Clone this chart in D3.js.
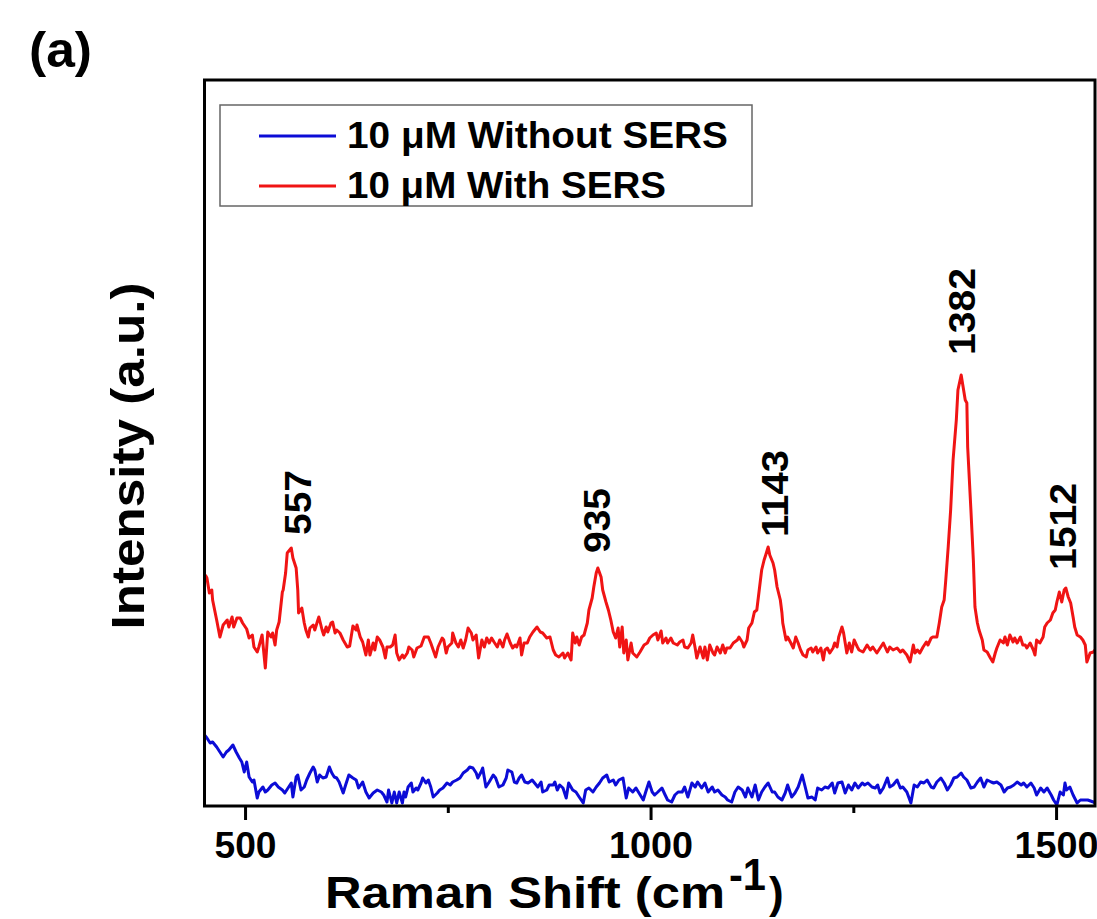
<!DOCTYPE html>
<html><head><meta charset="utf-8">
<script src="https://cdn.jsdelivr.net/npm/d3@7"></script>
<style>
body{margin:0;background:#fff}
svg{display:block}
text{font-family:"Liberation Sans",Arial,Helvetica,sans-serif;font-weight:bold;fill:#000}
</style>
</head><body>
<svg id="c" width="1097" height="919"></svg>
<script>
// ---------------- data ----------------
const seriesNames = ["10 \u03bcM Without SERS", "10 \u03bcM With SERS"];
const seriesColors = ["#0c0cd6", "#f01414"];
const xTicksMajor = [500, 1000, 1500];
const xTicksMinor = [750, 1250];
const xDomain = [450, 1548];
const yDomain = [0, 3630];
const peakLabels = ["557", "935", "1143", "1382", "1512"];
const peakLabelShift = [565, 934, 1153, 1384, 1509];
const peakLabelIntensity = [1355, 1265, 1345, 2255, 1180];

// [Raman shift (cm-1), intensity (a.u.)]
const redSpectrum = [[451,1155],[453,1140],[456,1065],[459,1080],[460,1030],[465,930],[469,845],[473,905],[478,930],[480,895],[484,945],[486,895],[490,940],[494,940],[497,915],[502,885],[505,840],[509,855],[511,795],[515,770],[517,795],[521,855],[525,690],[528,870],[532,845],[534,865],[537,805],[539,880],[542,920],[546,1070],[547,1080],[550,1165],[552,1265],[557,1290],[559,1240],[563,1190],[565,1080],[566,965],[570,990],[573,915],[575,880],[578,845],[580,890],[584,905],[586,880],[589,920],[591,945],[595,880],[597,855],[600,895],[602,870],[606,915],[608,920],[611,865],[613,880],[617,865],[621,830],[626,795],[629,800],[633,900],[637,880],[638,905],[642,845],[645,820],[649,755],[652,830],[654,755],[658,815],[660,780],[663,845],[666,830],[670,795],[673,740],[675,795],[679,795],[682,805],[685,855],[687,765],[690,730],[694,755],[696,740],[700,765],[702,795],[706,780],[708,745],[712,790],[717,800],[721,845],[726,845],[729,815],[732,780],[735,745],[738,795],[743,840],[745,830],[748,765],[750,795],[755,815],[756,865],[760,815],[763,795],[766,830],[769,790],[772,830],[775,890],[779,865],[781,830],[785,855],[786,815],[788,740],[792,830],[795,795],[798,840],[801,815],[804,840],[807,820],[811,795],[814,830],[818,795],[820,830],[823,860],[827,815],[830,790],[833,805],[835,795],[839,840],[841,755],[844,815],[848,815],[851,845],[855,870],[860,895],[864,870],[867,865],[872,840],[876,845],[880,780],[883,755],[887,745],[892,765],[894,740],[898,765],[902,730],[904,865],[907,815],[909,845],[912,805],[915,845],[918,855],[922,915],[924,980],[928,1040],[930,1095],[933,1165],[935,1190],[939,1145],[941,1080],[945,1020],[948,980],[951,930],[954,870],[957,840],[960,890],[962,795],[965,895],[967,765],[970,830],[972,730],[976,815],[978,765],[983,745],[987,770],[992,805],[996,815],[999,840],[1003,855],[1007,865],[1009,830],[1013,875],[1015,815],[1019,840],[1021,815],[1025,840],[1028,815],[1033,805],[1036,820],[1040,830],[1042,795],[1046,790],[1050,815],[1052,855],[1055,790],[1057,740],[1061,795],[1065,740],[1067,795],[1070,730],[1073,805],[1077,765],[1079,755],[1082,795],[1086,765],[1089,805],[1092,765],[1094,790],[1098,790],[1102,815],[1107,830],[1109,845],[1113,820],[1115,795],[1119,830],[1121,890],[1125,915],[1128,970],[1131,980],[1134,1080],[1137,1180],[1140,1230],[1142,1255],[1145,1295],[1147,1255],[1151,1215],[1153,1180],[1156,1095],[1160,1030],[1162,965],[1163,915],[1167,830],[1169,845],[1173,815],[1176,790],[1179,845],[1182,815],[1185,780],[1188,755],[1192,745],[1194,780],[1198,790],[1200,770],[1204,795],[1206,765],[1210,790],[1213,730],[1215,780],[1218,790],[1221,765],[1225,790],[1227,815],[1230,795],[1232,845],[1236,895],[1238,865],[1242,765],[1245,815],[1248,770],[1251,830],[1255,795],[1257,780],[1262,770],[1267,805],[1271,780],[1274,795],[1279,765],[1283,790],[1287,815],[1292,770],[1295,795],[1299,780],[1304,790],[1308,770],[1311,780],[1316,755],[1320,720],[1324,805],[1326,765],[1329,780],[1332,765],[1336,795],[1340,820],[1342,805],[1346,840],[1348,845],[1353,845],[1356,915],[1359,995],[1362,1030],[1364,1130],[1367,1295],[1370,1480],[1373,1730],[1377,1930],[1379,2080],[1383,2155],[1385,2105],[1388,2030],[1390,2015],[1391,1795],[1395,1480],[1398,1230],[1400,995],[1403,915],[1405,880],[1409,830],[1411,780],[1415,770],[1419,740],[1422,720],[1425,765],[1427,790],[1431,830],[1435,815],[1437,845],[1440,805],[1443,855],[1447,820],[1449,840],[1452,815],[1456,845],[1459,805],[1462,805],[1464,790],[1468,815],[1472,780],[1474,755],[1476,830],[1480,815],[1484,845],[1486,895],[1489,915],[1493,930],[1496,965],[1499,980],[1501,1020],[1504,1070],[1507,1020],[1510,1080],[1512,1090],[1515,1045],[1518,1015],[1521,945],[1523,895],[1526,855],[1530,845],[1533,830],[1536,805],[1538,720],[1542,765],[1546,770],[1548,780]];

const blueSpectrum = [[450,355],[453,340],[457,315],[460,320],[465,295],[469,270],[473,245],[477,270],[480,280],[485,305],[489,270],[493,240],[496,220],[499,170],[502,220],[505,145],[509,120],[511,130],[515,40],[517,70],[522,95],[525,70],[528,80],[533,105],[537,115],[541,95],[546,80],[549,65],[553,90],[557,115],[559,45],[563,145],[565,155],[569,80],[573,95],[576,130],[580,165],[584,195],[586,180],[589,120],[592,155],[596,140],[600,145],[604,195],[607,165],[610,145],[613,140],[616,120],[621,65],[624,105],[628,155],[633,140],[637,130],[640,90],[645,120],[649,70],[653,40],[658,65],[663,80],[668,70],[671,55],[675,20],[677,80],[681,15],[684,70],[687,15],[690,70],[694,15],[696,70],[698,45],[701,95],[705,115],[707,70],[711,90],[713,80],[717,115],[719,140],[723,115],[726,130],[729,95],[732,45],[737,65],[740,80],[744,90],[749,115],[753,105],[756,120],[761,130],[765,140],[769,165],[774,180],[777,195],[781,190],[785,165],[787,140],[791,170],[793,190],[797,95],[801,120],[806,155],[809,140],[813,95],[818,105],[822,140],[824,180],[829,170],[832,120],[835,115],[838,140],[841,155],[845,120],[849,115],[854,130],[857,115],[861,95],[865,120],[867,70],[872,80],[875,105],[880,105],[882,120],[885,80],[888,105],[892,90],[896,40],[899,115],[904,80],[908,70],[912,45],[917,15],[920,80],[924,90],[929,70],[933,95],[937,115],[941,140],[946,155],[949,120],[954,130],[957,105],[961,130],[966,140],[970,40],[973,90],[978,70],[982,90],[985,70],[991,30],[994,70],[998,120],[1002,70],[1005,55],[1009,70],[1014,90],[1018,55],[1021,30],[1026,20],[1030,55],[1034,70],[1039,70],[1042,95],[1046,45],[1051,115],[1055,95],[1058,120],[1063,90],[1067,115],[1071,70],[1076,95],[1079,70],[1083,80],[1088,55],[1092,45],[1095,30],[1100,20],[1104,70],[1108,95],[1113,80],[1117,45],[1120,90],[1125,45],[1129,105],[1133,30],[1137,70],[1141,95],[1145,115],[1150,70],[1153,70],[1157,45],[1162,30],[1166,65],[1169,105],[1174,45],[1178,65],[1182,95],[1187,155],[1191,90],[1194,40],[1199,45],[1203,30],[1206,90],[1211,80],[1215,95],[1219,90],[1224,115],[1227,65],[1231,115],[1236,120],[1240,65],[1244,105],[1248,80],[1252,115],[1256,90],[1261,115],[1264,105],[1268,115],[1273,95],[1277,90],[1280,105],[1283,65],[1287,90],[1292,140],[1295,95],[1299,105],[1304,130],[1308,90],[1311,95],[1316,70],[1321,15],[1325,105],[1329,95],[1333,120],[1337,115],[1341,130],[1346,95],[1349,90],[1353,120],[1358,140],[1362,115],[1366,80],[1370,105],[1374,140],[1378,145],[1383,165],[1386,145],[1390,130],[1395,90],[1399,95],[1403,120],[1407,140],[1411,95],[1415,130],[1420,120],[1423,115],[1427,120],[1432,105],[1436,70],[1440,90],[1444,95],[1448,105],[1452,120],[1457,105],[1460,115],[1464,95],[1469,115],[1473,90],[1476,55],[1481,90],[1485,70],[1489,90],[1494,55],[1497,30],[1501,5],[1505,70],[1509,55],[1511,115],[1513,80],[1517,95],[1521,55],[1526,15],[1530,30],[1534,30],[1539,30],[1546,20],[1548,15]];

// ---------------- chart ----------------
const svg = d3.select("#c");
const m = {left: 204.5, right: 1095, top: 80, bottom: 806};
const x = d3.scaleLinear().domain(xDomain).range([m.left, m.right]);
const y = d3.scaleLinear().domain(yDomain).range([m.bottom, m.top]);

svg.append("defs").append("clipPath").attr("id", "plotclip")
  .append("rect").attr("x", m.left).attr("y", m.top)
  .attr("width", m.right - m.left).attr("height", m.bottom - m.top);

const line = d3.line().x(d => x(d[0])).y(d => y(d[1]));
const plot = svg.append("g").attr("clip-path", "url(#plotclip)");
[blueSpectrum, redSpectrum].forEach((s, i) => {
  plot.append("path").datum(s).attr("d", line)
    .attr("fill", "none").attr("stroke", seriesColors[i])
    .attr("stroke-width", 3).attr("stroke-linejoin", "round");
});

// frame
svg.append("rect").attr("x", m.left).attr("y", m.top)
  .attr("width", m.right - m.left).attr("height", m.bottom - m.top)
  .attr("fill", "none").attr("stroke", "#000").attr("stroke-width", 3);

// x axis major
const ax = svg.append("g").attr("transform", `translate(0,${m.bottom})`)
  .call(d3.axisBottom(x).tickValues(xTicksMajor).tickSize(14).tickFormat(d3.format("d")));
ax.attr("font-family", null).attr("font-size", null);
ax.select(".domain").remove();
ax.selectAll(".tick line").attr("stroke", "#000").attr("stroke-width", 3);
ax.selectAll(".tick text").attr("y", 52).attr("dy", null)
  .attr("font-size", 36).attr("fill", "#000")
  .attr("textLength", d => String(d).length === 3 ? 62 : 84)
  .attr("lengthAdjust", "spacingAndGlyphs");
// x axis minor
const axm = svg.append("g").attr("transform", `translate(0,${m.bottom})`)
  .call(d3.axisBottom(x).tickValues(xTicksMinor).tickSize(7).tickFormat(""));
axm.select(".domain").remove();
axm.selectAll(".tick line").attr("stroke", "#000").attr("stroke-width", 3);

// x axis title
const xt = svg.append("g");
xt.append("text").attr("x", 325).attr("y", 908).attr("font-size", 44)
  .attr("textLength", 400).attr("lengthAdjust", "spacingAndGlyphs").text("Raman Shift (cm");
xt.append("text").attr("x", 729).attr("y", 890).attr("font-size", 45)
  .attr("textLength", 37).attr("lengthAdjust", "spacingAndGlyphs").text("-1");
xt.append("text").attr("x", 769).attr("y", 908).attr("font-size", 44).text(")");

// y axis title
svg.append("text").attr("transform", "translate(144,456) rotate(-90)")
  .attr("text-anchor", "middle").attr("font-size", 46)
  .attr("textLength", 347).attr("lengthAdjust", "spacingAndGlyphs")
  .text("Intensity (a.u.)");

// panel label
svg.append("text").attr("x", 29).attr("y", 67).attr("font-size", 50)
  .attr("textLength", 63).attr("lengthAdjust", "spacingAndGlyphs").text("(a)");

// peak labels
peakLabels.forEach((t, i) => {
  svg.append("text")
    .attr("transform", `translate(${x(peakLabelShift[i]) + 13},${y(peakLabelIntensity[i])}) rotate(-90)`)
    .attr("font-size", 36)
    .attr("textLength", t.length === 3 ? 65 : 87).attr("lengthAdjust", "spacingAndGlyphs")
    .text(t);
});

// legend
const lg = svg.append("g");
lg.append("rect").attr("x", 220).attr("y", 105).attr("width", 532).attr("height", 101)
  .attr("fill", "#fff").attr("stroke", "#666").attr("stroke-width", 1.5);
const legendLens = [381, 319];
seriesNames.forEach((n, i) => {
  const cy = 136 + i * 50;
  lg.append("line").attr("x1", 259).attr("x2", 336).attr("y1", cy).attr("y2", cy)
    .attr("stroke", seriesColors[i]).attr("stroke-width", 3);
  lg.append("text").attr("x", 347).attr("y", cy + 12).attr("font-size", 37)
    .attr("textLength", legendLens[i]).attr("lengthAdjust", "spacingAndGlyphs").text(n);
});
</script>
</body></html>
